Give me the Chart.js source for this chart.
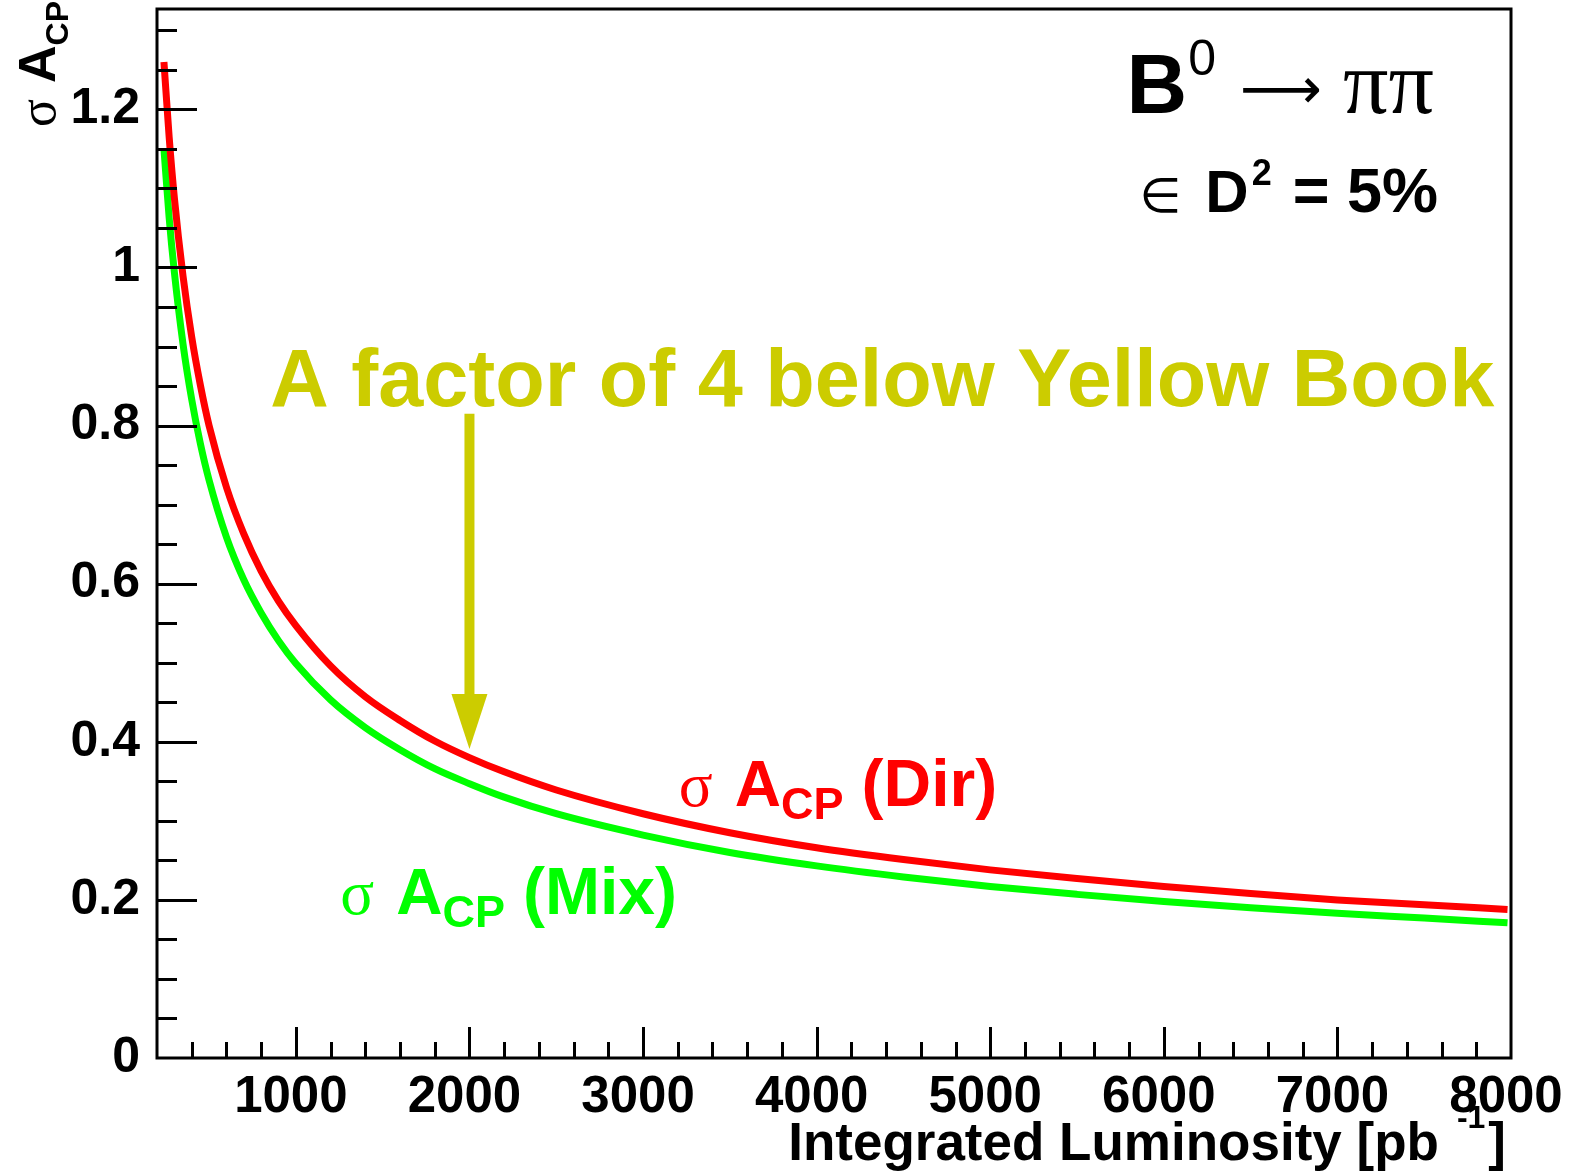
<!DOCTYPE html>
<html>
<head>
<meta charset="utf-8">
<script src="https://cdn.jsdelivr.net/npm/chart.js@4/dist/chart.umd.min.js"></script>
<style>
  html, body { margin: 0; padding: 0; background: #fff; }
  canvas { display: block; }
</style>
</head>
<body>
<canvas id="acpChart" width="1572" height="1171"></canvas>
<script>
// values (integrated luminosity in pb^-1)
const luminosity = [240, 270, 300, 350, 400, 450, 500, 600, 700, 800, 900, 1000, 1200, 1400, 1600, 1800, 2000, 2200, 2500, 3000, 3500, 4000, 4500, 5000, 5500, 6000, 6500, 7000, 7500, 7980];
const sigmaDir = [1.26, 1.165, 1.088, 0.989, 0.912, 0.851, 0.800, 0.722, 0.663, 0.616, 0.578, 0.547, 0.496, 0.457, 0.427, 0.401, 0.380, 0.362, 0.339, 0.309, 0.285, 0.266, 0.251, 0.238, 0.227, 0.217, 0.208, 0.200, 0.194, 0.188];
const sigmaMix = [1.15, 1.063, 0.994, 0.903, 0.833, 0.777, 0.731, 0.659, 0.605, 0.563, 0.528, 0.499, 0.453, 0.418, 0.390, 0.366, 0.347, 0.330, 0.309, 0.282, 0.260, 0.243, 0.229, 0.217, 0.207, 0.198, 0.190, 0.183, 0.177, 0.171];
const xTickLabels = [1000, 2000, 3000, 4000, 5000, 6000, 7000, 8000];
const yTickLabels = [0, 0.2, 0.4, 0.6, 0.8, 1, 1.2];

const SANS = '"Liberation Sans", Arial, Helvetica, sans-serif';
const SERIF = '"Liberation Serif", "DejaVu Serif", serif';
const YELLOW = 'rgb(204,204,0)';

function runText(ctx, x, y, parts) {
    let cx = x;
    for (const p of parts) {
        ctx.font = p.font;
        ctx.fillStyle = p.color || '#000';
        cx += p.gap || 0;
        ctx.fillText(p.text, cx, y + (p.dy || 0));
        cx += ctx.measureText(p.text).width;
    }
    return cx;
}

function textWidth(ctx, parts) {
    let w = 0;
    for (const p of parts) {
        ctx.font = p.font;
        w += (p.gap || 0) + ctx.measureText(p.text).width;
    }
    return w;
}

const rootStyle = {
    id: 'rootStyle',
    afterDraw(chart) {
        const { ctx, chartArea: a, scales: { x, y } } = chart;
        ctx.save();
        ctx.textBaseline = 'alphabetic';
        ctx.textAlign = 'left';

        // frame
        ctx.strokeStyle = '#000';
        ctx.lineWidth = 3;
        ctx.strokeRect(a.left, a.top, a.right - a.left, a.bottom - a.top);

        // inner ticks, x every 200, y every 0.05
        ctx.beginPath();
        for (let i = 2; i < 40; i++) {
            const px = Math.round(x.getPixelForValue(i * 200)) + 0.5;
            const len = i % 5 === 0 ? 31 : 16;
            ctx.moveTo(px, a.bottom);
            ctx.lineTo(px, a.bottom - len);
        }
        for (let j = 1; j <= 26; j++) {
            const py = Math.round(y.getPixelForValue(j * 0.05)) + 0.5;
            const len = j % 4 === 0 ? 40 : 20;
            ctx.moveTo(a.left, py);
            ctx.lineTo(a.left + len, py);
        }
        ctx.stroke();

        // x axis title, right aligned
        const xt = [
            { text: 'Integrated Luminosity [pb', font: 'bold 53px ' + SANS },
            { text: '-1', font: 'bold 32px ' + SANS, dy: -32, gap: 18 },
            { text: ']', font: 'bold 53px ' + SANS, gap: 3 }
        ];
        runText(ctx, 1506 - textWidth(ctx, xt), 1160, xt);

        // y axis title, rotated
        ctx.save();
        ctx.translate(55, 127);
        ctx.rotate(-Math.PI / 2);
        runText(ctx, 0, 0, [
            { text: 'σ', font: '52px ' + SERIF },
            { text: 'A', font: 'bold 52px ' + SANS, gap: 16 },
            { text: 'CP', font: 'bold 32px ' + SANS, dy: 13 }
        ]);
        ctx.restore();

        // B0 -> pi pi
        let bx = x.getPixelForValue(5785), by = y.getPixelForValue(1.196);
        runText(ctx, bx, by, [
            { text: 'B', font: 'bold 84px ' + SANS },
            { text: '0', font: '50px ' + SANS, dy: -38, gap: 1 }
        ]);
        ctx.font = '60px "DejaVu Sans", sans-serif';
        const aw = ctx.measureText('⟶').width;
        const fs = 60 * 82 / aw;
        ctx.font = fs + 'px "DejaVu Sans", sans-serif';
        ctx.fillText('⟶', 1240, by - 22 + fs * 0.3);
        runText(ctx, 1343, by, [{ text: 'ππ', font: '90px ' + SERIF }]);

        // eps D^2 = 5%
        bx = x.getPixelForValue(5860); by = y.getPixelForValue(1.070);
        runText(ctx, bx, by, [
            { text: '∈', font: '48px "DejaVu Sans", sans-serif' },
            { text: 'D', font: 'bold 60px ' + SANS, gap: 24 },
            { text: '2', font: 'bold 36px ' + SANS, dy: -27, gap: 3 },
            { text: '= 5%', font: 'bold 63px ' + SANS, gap: 21 }
        ]);

        // yellow book note and arrow
        bx = x.getPixelForValue(852); by = y.getPixelForValue(0.825);
        runText(ctx, bx, by, [{ text: 'A factor of 4 below Yellow Book', font: 'bold 81px ' + SANS, color: YELLOW }]);
        const ax = x.getPixelForValue(2000);
        const aTop = y.getPixelForValue(0.815), aTip = y.getPixelForValue(0.391);
        ctx.fillStyle = YELLOW;
        ctx.fillRect(ax - 5, aTop, 10, aTip - aTop - 50);
        ctx.beginPath();
        ctx.moveTo(ax - 18, aTip - 55);
        ctx.lineTo(ax + 18, aTip - 55);
        ctx.lineTo(ax, aTip);
        ctx.closePath();
        ctx.fill();

        // curve labels
        const lbl = (L, v, col, tag) => runText(ctx, x.getPixelForValue(L), y.getPixelForValue(v), [
            { text: 'σ', font: '63px ' + SERIF, color: col },
            { text: 'A', font: 'bold 64px ' + SANS, color: col, gap: 22 },
            { text: 'CP', font: 'bold 45px ' + SANS, color: col, dy: 13 },
            { text: tag, font: 'bold 66px ' + SANS, color: col, gap: 18 }
        ]);
        lbl(3206, 0.319, '#ff0000', '(Dir)');
        lbl(1256, 0.182, '#00ff00', '(Mix)');

        ctx.restore();
    }
};

const ctx = document.getElementById('acpChart').getContext('2d');
new Chart(ctx, {
    type: 'line',
    data: {
        datasets: [
            {
                label: 'sigma A_CP (Dir)',
                data: luminosity.map((l, i) => ({ x: l, y: sigmaDir[i] })),
                borderColor: '#ff0000',
                borderWidth: 7,
                pointRadius: 0,
                cubicInterpolationMode: 'monotone',
                fill: false
            },
            {
                label: 'sigma A_CP (Mix)',
                data: luminosity.map((l, i) => ({ x: l, y: sigmaMix[i] })),
                borderColor: '#00ff00',
                borderWidth: 7,
                pointRadius: 0,
                cubicInterpolationMode: 'monotone',
                fill: false
            }
        ]
    },
    options: {
        responsive: false,
        animation: false,
        devicePixelRatio: 1,
        layout: { padding: { left: 0, top: 9, right: 61, bottom: 0 } },
        plugins: {
            legend: { display: false },
            tooltip: { enabled: false }
        },
        scales: {
            x: {
                type: 'linear',
                min: 200,
                max: 8000,
                afterBuildTicks: (axis) => { axis.ticks = xTickLabels.map(v => ({ value: v })); },
                afterFit: (axis) => {
                    axis.height = 113;
                    axis.paddingLeft = 0;
                    axis.paddingRight = 0;
                },
                grid: { display: false, drawTicks: false },
                border: { display: false },
                ticks: {
                    padding: 9,
                    labelOffset: -5,
                    maxRotation: 0,
                    autoSkip: false,
                    color: '#000',
                    callback: (v) => String(v),
                    font: { family: SANS, size: 51, weight: 'bold' }
                }
            },
            y: {
                min: 0,
                max: 1.327,
                afterBuildTicks: (axis) => { axis.ticks = yTickLabels.map(v => ({ value: v })); },
                afterFit: (axis) => {
                    axis.width = 157;
                    axis.paddingTop = 0;
                    axis.paddingBottom = 0;
                },
                grid: { display: false, drawTicks: false },
                border: { display: false },
                ticks: {
                    padding: 17,
                    color: '#000',
                    callback: (v) => String(v),
                    font: { family: SANS, size: 50, weight: 'bold' }
                }
            }
        }
    },
    plugins: [rootStyle]
});
</script>
</body>
</html>
